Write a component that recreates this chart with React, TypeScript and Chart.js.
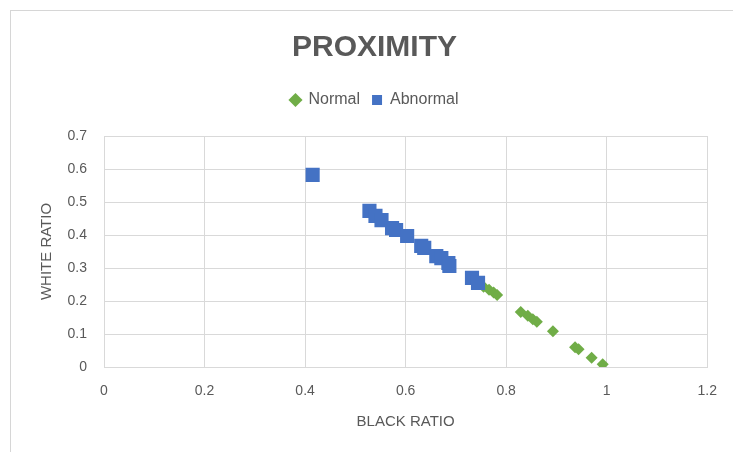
import React, { useEffect, useRef } from "react";
import { Chart, registerables } from "chart.js";

Chart.register(...registerables);

const TITLE = "PROXIMITY";
const X_TITLE = "BLACK RATIO";
const Y_TITLE = "WHITE RATIO";

const normalX = [0.755, 0.766, 0.775, 0.782, 0.829, 0.843, 0.853, 0.861, 0.893, 0.937, 0.944, 0.970, 0.992];
const normalY = [0.243, 0.234, 0.226, 0.218, 0.167, 0.155, 0.145, 0.137, 0.108, 0.060, 0.054, 0.028, 0.008];

const abnormalX = [0.415, 0.528, 0.540, 0.552, 0.573, 0.581, 0.603, 0.631, 0.637, 0.661, 0.671, 0.685, 0.687, 0.732, 0.744];
const abnormalY = [0.582, 0.473, 0.458, 0.445, 0.421, 0.415, 0.397, 0.367, 0.361, 0.336, 0.330, 0.315, 0.306, 0.270, 0.255];

const X_MIN = 0, X_MAX = 1.2, X_STEP = 0.2;
const Y_MIN = 0, Y_MAX = 0.7, Y_STEP = 0.1;

const GREEN = "#70ad47";
const BLUE = "#4472c4";
const TEXT = "#595959";
const GRID = "#d9d9d9";
const FONT = "'Liberation Sans', Arial, sans-serif";

const fmt = (v: any) => String(Number(Number(v).toFixed(2)));

const legendSpacer = {
  id: "legendSpacer",
  beforeInit(chart: any) {
    const origFit = chart.legend.fit;
    chart.legend.fit = function () {
      origFit.bind(chart.legend)();
      this.height += 18;
    };
  },
};

export default function App() {
  const ref = useRef<HTMLCanvasElement>(null);
  useEffect(() => {
    if (!ref.current) return;
    const chart = new Chart(ref.current, {
      type: "scatter",
      data: {
        datasets: [
          {
            label: "Normal",
            data: normalX.map((x, i) => ({ x, y: normalY[i] })),
            pointStyle: "rectRot",
            pointRadius: 6,
            pointHoverRadius: 6,
            backgroundColor: GREEN,
            borderColor: GREEN,
            borderWidth: 0,
            order: 2,
          },
          {
            label: "Abnormal",
            data: abnormalX.map((x, i) => ({ x, y: abnormalY[i] })),
            pointStyle: "rect",
            pointRadius: 10,
            pointHoverRadius: 10,
            backgroundColor: BLUE,
            borderColor: BLUE,
            borderWidth: 0,
            order: 1,
          },
        ],
      },
      plugins: [legendSpacer],
      options: {
        animation: false,
        responsive: true,
        maintainAspectRatio: false,
        layout: { padding: { left: 38, right: 22, top: 0, bottom: 21 } },
        plugins: {
          title: {
            display: true,
            text: TITLE,
            color: TEXT,
            font: { family: FONT, size: 30, weight: "bold" },
            padding: { top: 30, bottom: 14 },
          },
          legend: {
            display: true,
            position: "top",
            labels: {
              usePointStyle: true,
              boxWidth: 10,
              boxHeight: 10,
              color: TEXT,
              font: { family: FONT, size: 16 },
              padding: 12,
              sort: (a: any, b: any) => a.datasetIndex - b.datasetIndex,
            },
          },
          tooltip: { enabled: false },
        },
        scales: {
          x: {
            type: "linear",
            min: X_MIN,
            max: X_MAX,
            afterFit: (scale: any) => {
              scale.height = 64;
            },
            ticks: {
              stepSize: X_STEP,
              color: TEXT,
              font: { family: FONT, size: 14 },
              padding: 16,
              callback: fmt,
            },
            grid: { color: GRID, drawTicks: false },
            border: { color: GRID },
            title: {
              display: true,
              text: X_TITLE,
              color: TEXT,
              font: { family: FONT, size: 15 },
              padding: { top: 0, bottom: 0 },
            },
          },
          y: {
            type: "linear",
            min: Y_MIN,
            max: Y_MAX,
            afterFit: (scale: any) => {
              scale.width = 66;
            },
            ticks: {
              stepSize: Y_STEP,
              color: TEXT,
              font: { family: FONT, size: 14 },
              padding: 17,
              callback: fmt,
            },
            grid: { color: GRID, drawTicks: false },
            border: { color: GRID },
            title: {
              display: true,
              text: Y_TITLE,
              color: TEXT,
              font: { family: FONT, size: 15 },
              padding: { top: 0, bottom: 0 },
            },
          },
        },
      },
    });
    return () => chart.destroy();
  }, []);

  return (
    <div
      style={{
        position: "fixed",
        left: 0,
        top: 0,
        width: 733,
        height: 452,
        overflow: "hidden",
        background: "#ffffff",
      }}
    >
      <div
        style={{
          position: "absolute",
          left: 10,
          top: 10,
          width: 800,
          height: 500,
          border: "1px solid #d6d6d6",
        }}
      />
      <div style={{ position: "absolute", left: 0, top: 0, width: 733, height: 452 }}>
        <canvas ref={ref} />
      </div>
    </div>
  );
}
